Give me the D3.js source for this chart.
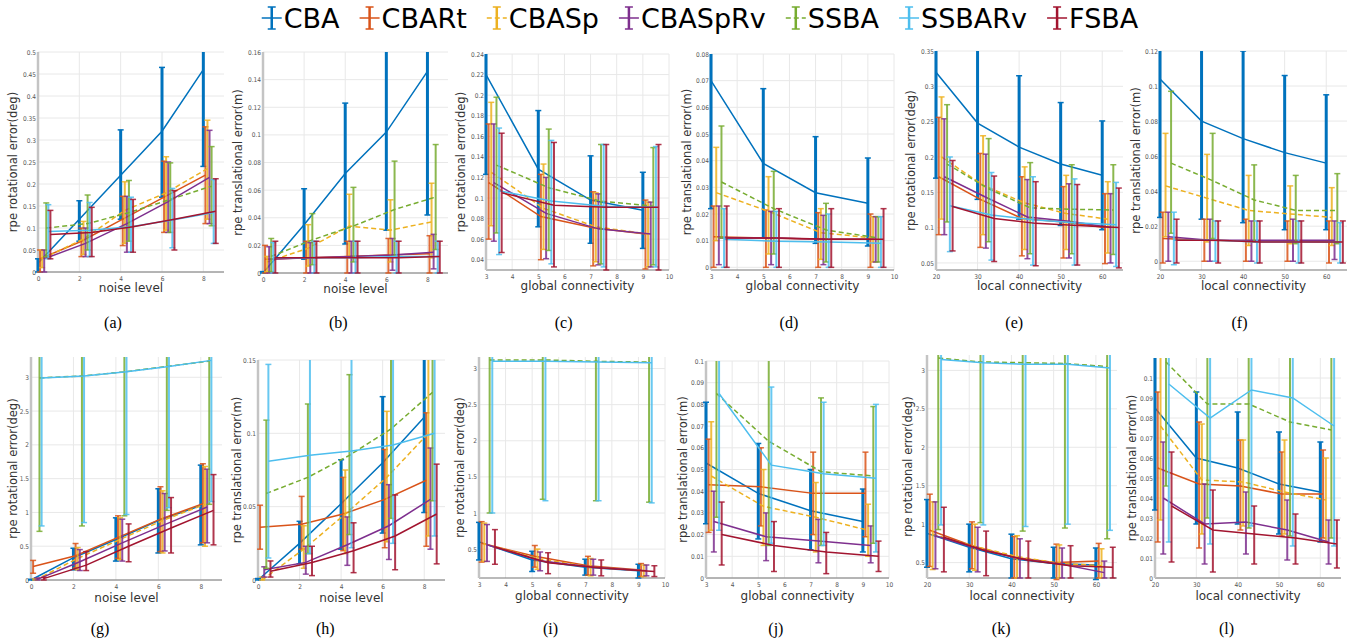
<!DOCTYPE html>
<html>
<head>
<meta charset="utf-8">
<script src="https://cdn.jsdelivr.net/npm/d3@7"></script>
<style>
  body { margin: 0; background: #fff; }
  text { font-family: "DejaVu Sans", sans-serif; }
</style>
</head>
<body>
<svg id="chart" width="1357" height="642"></svg>
<script>
var series = ['CBA', 'CBARt', 'CBASp', 'CBASpRv', 'SSBA', 'SSBARv', 'FSBA'];
var colors = ['#0072BD', '#D95319', '#EDB120', '#7E2F8E', '#77AC30', '#4DBEEE', '#A2142F'];
var dashes = [null, null, '5,3', null, '5,3', null, null];

var noiseLevels = [0, 2, 4, 6, 8];
var globalConn = [3, 5, 7, 9];
var localConn = [20, 30, 40, 50, 60];

// (a) rotational error vs noise
var aMean = [[0.02, 0.12, 0.22, 0.32, 0.46], [0.03, 0.07, 0.12, 0.17, 0.22], [0.03, 0.075, 0.14, 0.18, 0.235], [0.03, 0.065, 0.11, 0.16, 0.215], [0.10, 0.11, 0.135, 0.165, 0.195], [0.092, 0.095, 0.103, 0.118, 0.135], [0.085, 0.09, 0.103, 0.12, 0.138]];
var aLow = [[0, 0.07, 0.12, 0.17, 0.24], [0, 0.035, 0.06, 0.09, 0.11], [0.01, 0.04, 0.065, 0.095, 0.12], [0, 0.035, 0.045, 0.09, 0.11], [0.035, 0.05, 0.07, 0.09, 0.105], [0.03, 0.035, 0.045, 0.055, 0.065], [0.03, 0.035, 0.045, 0.05, 0.065]];
var aHigh = [[0.03, 0.162, 0.323, 0.465, 0.6], [0.05, 0.10, 0.172, 0.252, 0.33], [0.05, 0.115, 0.205, 0.262, 0.345], [0.05, 0.10, 0.172, 0.25, 0.322], [0.157, 0.175, 0.208, 0.248, 0.285], [0.153, 0.158, 0.17, 0.19, 0.21], [0.14, 0.147, 0.165, 0.185, 0.212]];

// (b) translational error vs noise
var bMean = [[0.0, 0.035, 0.072, 0.102, 0.146], [0.01, 0.011, 0.012, 0.013, 0.014], [0.008, 0.018, 0.034, 0.031, 0.037], [0.01, 0.011, 0.012, 0.013, 0.015], [0.012, 0.024, 0.034, 0.046, 0.055], [0.011, 0.011, 0.011, 0.012, 0.012], [0.011, 0.011, 0.011, 0.011, 0.012]];
var bLow = [[0, 0.01, 0.021, 0.031, 0.042], [0, 0, 0, 0, 0], [0.001, 0.005, 0.012, 0.008, 0.011], [0, 0, 0, 0.002, 0.003], [0.001, 0.006, 0.008, 0.012, 0.017], [0, 0, 0, 0, 0], [0, 0, 0, 0, 0]];
var bHigh = [[0.001, 0.061, 0.123, 0.2, 0.2], [0.02, 0.023, 0.023, 0.025, 0.027], [0.012, 0.035, 0.057, 0.053, 0.065], [0.019, 0.022, 0.023, 0.025, 0.028], [0.025, 0.043, 0.062, 0.081, 0.093], [0.022, 0.023, 0.023, 0.023, 0.023], [0.023, 0.023, 0.023, 0.023, 0.023]];

// (c) rotational error vs global connectivity
var cMean = [[0.22, 0.128, 0.098, 0.088], [0.115, 0.082, 0.071, 0.065], [0.125, 0.09, 0.072, 0.065], [0.115, 0.085, 0.07, 0.065], [0.132, 0.11, 0.097, 0.092], [0.107, 0.097, 0.092, 0.091], [0.105, 0.093, 0.091, 0.091]];
var cLow = [[0.123, 0.072, 0.056, 0.051], [0.06, 0.04, 0.034, 0.031], [0.073, 0.05, 0.038, 0.033], [0.058, 0.041, 0.035, 0.033], [0.066, 0.049, 0.036, 0.035], [0.045, 0.036, 0.033, 0.033], [0.047, 0.033, 0.03, 0.03]];
var cHigh = [[0.26, 0.185, 0.141, 0.125], [0.172, 0.123, 0.106, 0.098], [0.193, 0.133, 0.105, 0.096], [0.172, 0.12, 0.104, 0.096], [0.198, 0.167, 0.152, 0.149], [0.168, 0.156, 0.152, 0.15], [0.163, 0.154, 0.152, 0.152]];

// (d) translational error vs global connectivity
var dMean = [[0.07, 0.039, 0.028, 0.024], [0.0115, 0.011, 0.0105, 0.0105], [0.028, 0.021, 0.013, 0.011], [0.011, 0.011, 0.0105, 0.0105], [0.032, 0.022, 0.014, 0.011], [0.0105, 0.0098, 0.0095, 0.009], [0.011, 0.011, 0.0105, 0.0105]];
var dLow = [[0.022, 0.011, 0.009, 0.008], [0, 0, 0, 0], [0.01, 0.005, 0.003, 0.002], [0.001, 0.001, 0.001, 0.002], [0.011, 0.005, 0.002, 0.002], [0, 0, 0, 0], [0, 0, 0, 0]];
var dHigh = [[0.09, 0.067, 0.049, 0.041], [0.023, 0.0215, 0.0205, 0.02], [0.045, 0.034, 0.022, 0.019], [0.023, 0.021, 0.0195, 0.019], [0.053, 0.036, 0.024, 0.019], [0.022, 0.021, 0.02, 0.019], [0.023, 0.022, 0.022, 0.022]];

// (e) rotational error vs local connectivity
var eMean = [[0.32, 0.248, 0.214, 0.19, 0.174], [0.172, 0.14, 0.113, 0.108, 0.1], [0.2, 0.16, 0.135, 0.12, 0.112], [0.172, 0.143, 0.115, 0.109, 0.1], [0.19, 0.155, 0.128, 0.126, 0.125], [0.131, 0.118, 0.111, 0.107, 0.104], [0.13, 0.113, 0.106, 0.103, 0.1]];
var eLow = [[0.17, 0.14, 0.112, 0.103, 0.097], [0.09, 0.072, 0.06, 0.057, 0.049], [0.112, 0.09, 0.069, 0.069, 0.064], [0.09, 0.071, 0.056, 0.057, 0.05], [0.108, 0.08, 0.063, 0.063, 0.062], [0.066, 0.054, 0.047, 0.047, 0.045], [0.067, 0.052, 0.046, 0.047, 0.043]];
var eHigh = [[0.4, 0.4, 0.315, 0.277, 0.251], [0.256, 0.205, 0.172, 0.158, 0.148], [0.285, 0.23, 0.186, 0.174, 0.165], [0.254, 0.204, 0.168, 0.162, 0.148], [0.274, 0.226, 0.192, 0.189, 0.189], [0.2, 0.178, 0.172, 0.169, 0.164], [0.195, 0.173, 0.165, 0.161, 0.156]];

// (f) translational error vs local connectivity
var fMean = [[0.104, 0.08, 0.07, 0.062, 0.056], [0.013, 0.012, 0.0115, 0.0115, 0.011], [0.043, 0.036, 0.029, 0.027, 0.025], [0.014, 0.012, 0.012, 0.012, 0.012], [0.056, 0.046, 0.035, 0.029, 0.029], [0.012, 0.012, 0.011, 0.011, 0.011], [0.012, 0.012, 0.011, 0.011, 0.011]];
var fLow = [[0.025, 0.024, 0.022, 0.018, 0.018], [-0.001, 0, 0, 0, -0.001], [0.014, 0.011, 0.009, 0.01, 0.009], [0, 0, 0, 0, 0.001], [0.016, 0.013, 0.011, 0.01, 0.01], [-0.002, 0, -0.001, -0.001, -0.001], [-0.001, -0.001, -0.001, -0.001, -0.001]];
var fHigh = [[0.14, 0.14, 0.12, 0.106, 0.095], [0.028, 0.024, 0.024, 0.023, 0.023], [0.073, 0.061, 0.049, 0.043, 0.042], [0.028, 0.024, 0.023, 0.024, 0.023], [0.097, 0.073, 0.055, 0.049, 0.05], [0.028, 0.023, 0.023, 0.023, 0.022], [0.024, 0.023, 0.023, 0.023, 0.023]];

// (g) rotational error vs noise
var gMean = [[0.0, 0.33, 0.6, 0.88, 1.1], [0.2, 0.36, 0.63, 0.9, 1.13], [0.0, 0.32, 0.6, 0.88, 1.12], [0.01, 0.27, 0.55, 0.82, 1.08], [2.99, 3.02, 3.08, 3.16, 3.24], [2.99, 3.02, 3.08, 3.16, 3.25], [0.02, 0.22, 0.5, 0.77, 1.03]];
var gLow = [[0, 0.15, 0.28, 0.4, 0.52], [0.1, 0.18, 0.32, 0.42, 0.55], [0, 0.15, 0.3, 0.4, 0.5], [0, 0.14, 0.28, 0.43, 0.55], [0.72, 0.8, 0.95, 1.03, 1.12], [0.8, 0.85, 0.97, 1.07, 1.16], [0, 0.14, 0.27, 0.4, 0.52]];
var gHigh = [[0.01, 0.47, 0.92, 1.35, 1.7], [0.29, 0.54, 0.95, 1.38, 1.72], [0.02, 0.48, 0.92, 1.32, 1.68], [0.03, 0.45, 0.9, 1.28, 1.64], [4, 4, 4, 4, 4], [4, 4, 4, 4, 4], [0.04, 0.42, 0.83, 1.22, 1.56]];

// (h) translational error vs noise
var hMean = [[0.0, 0.025, 0.052, 0.08, 0.111], [0.036, 0.038, 0.045, 0.055, 0.068], [0.0, 0.021, 0.045, 0.07, 0.1], [0.007, 0.012, 0.024, 0.037, 0.055], [0.059, 0.07, 0.085, 0.103, 0.128], [0.081, 0.085, 0.088, 0.092, 0.1], [0.006, 0.012, 0.02, 0.03, 0.045]];
var hLow = [[0, 0.011, 0.021, 0.032, 0.046], [0.021, 0.021, 0.02, 0.022, 0.023], [0, 0.008, 0.018, 0.026, 0.03], [0.002, 0.004, 0.01, 0.014, 0.021], [0.008, 0.018, 0.031, 0.042, 0.054], [0.015, 0.018, 0.022, 0.025, 0.03], [0.002, 0.003, 0.005, 0.007, 0.011]];
var hHigh = [[0.001, 0.04, 0.082, 0.125, 0.2], [0.051, 0.057, 0.07, 0.089, 0.114], [0.002, 0.037, 0.075, 0.115, 0.2], [0.009, 0.023, 0.043, 0.065, 0.09], [0.109, 0.12, 0.14, 0.2, 0.2], [0.147, 0.2, 0.2, 0.2, 0.2], [0.013, 0.023, 0.039, 0.058, 0.079]];

// (i) rotational error vs global connectivity
var iMean = [[0.6, 0.35, 0.25, 0.2], [0.58, 0.4, 0.27, 0.21], [0.57, 0.37, 0.25, 0.2], [0.56, 0.34, 0.25, 0.2], [3.12, 3.12, 3.1, 3.09], [3.1, 3.1, 3.09, 3.08], [0.53, 0.31, 0.24, 0.19]];
var iLow = [[0.35, 0.19, 0.14, 0.1], [0.32, 0.25, 0.14, 0.12], [0.33, 0.22, 0.13, 0.12], [0.33, 0.2, 0.14, 0.13], [1.0, 1.19, 1.17, 1.15], [1.0, 1.17, 1.17, 1.14], [0.29, 0.16, 0.13, 0.12]];
var iHigh = [[0.87, 0.47, 0.36, 0.29], [0.88, 0.55, 0.4, 0.3], [0.86, 0.5, 0.37, 0.28], [0.84, 0.46, 0.36, 0.28], [4, 4, 4, 4], [4, 4, 4, 4], [0.77, 0.45, 0.35, 0.27]];

// (j) translational error vs global connectivity
var jMean = [[0.053, 0.039, 0.031, 0.026], [0.043, 0.042, 0.039, 0.039], [0.047, 0.033, 0.028, 0.022], [0.026, 0.019, 0.017, 0.015], [0.085, 0.063, 0.049, 0.047], [0.085, 0.052, 0.048, 0.046], [0.02, 0.015, 0.012, 0.01]];
var jLow = [[0.025, 0.018, 0.013, 0.012], [0.021, 0.024, 0.02, 0.019], [0.022, 0.015, 0.012, 0.01], [0.012, 0.008, 0.007, 0.007], [0.028, 0.015, 0.015, 0.016], [0.022, 0.016, 0.015, 0.012], [0.006, 0.003, 0.002, 0.003]];
var jHigh = [[0.081, 0.062, 0.05, 0.041], [0.064, 0.06, 0.058, 0.058], [0.072, 0.05, 0.044, 0.034], [0.04, 0.03, 0.027, 0.024], [0.13, 0.13, 0.083, 0.079], [0.13, 0.088, 0.081, 0.08], [0.035, 0.026, 0.021, 0.017]];

// (k) rotational error vs local connectivity
var kMean = [[0.88, 0.7, 0.55, 0.49, 0.47], [0.92, 0.72, 0.57, 0.5, 0.52], [0.87, 0.71, 0.58, 0.49, 0.46], [0.85, 0.68, 0.55, 0.48, 0.37], [3.16, 3.11, 3.1, 3.09, 3.05], [3.14, 3.1, 3.08, 3.08, 3.03], [0.83, 0.65, 0.53, 0.46, 0.44]];
var kLow = [[0.44, 0.38, 0.3, 0.3, 0.28], [0.45, 0.42, 0.3, 0.28, 0.3], [0.41, 0.4, 0.3, 0.3, 0.3], [0.42, 0.38, 0.3, 0.3, 0.3], [0.93, 1.02, 0.91, 0.95, 0.81], [0.99, 0.99, 0.97, 1.0, 0.92], [0.38, 0.33, 0.3, 0.3, 0.3]];
var kHigh = [[1.32, 1.0, 0.87, 0.7, 0.69], [1.39, 1.03, 0.84, 0.74, 0.75], [1.29, 1.0, 0.85, 0.73, 0.68], [1.29, 0.96, 0.81, 0.69, 0.52], [4, 4, 4, 4, 4], [4, 4, 4, 4, 4], [1.22, 0.91, 0.78, 0.72, 0.7]];

// (l) translational error vs local connectivity
var lMean = [[0.085, 0.06, 0.055, 0.047, 0.043], [0.055, 0.047, 0.046, 0.042, 0.042], [0.076, 0.049, 0.048, 0.043, 0.039], [0.04, 0.027, 0.028, 0.024, 0.018], [0.108, 0.087, 0.087, 0.078, 0.074], [0.097, 0.08, 0.094, 0.09, 0.076], [0.036, 0.024, 0.022, 0.02, 0.017]];
var lLow = [[0.034, 0.027, 0.027, 0.022, 0.018], [0.018, 0.015, 0.024, 0.021, 0.02], [0.029, 0.022, 0.026, 0.022, 0.018], [0.012, 0.007, 0.012, 0.009, 0.007], [0.046, 0.03, 0.025, 0.021, 0.02], [0.018, 0.017, 0.026, 0.016, 0.016], [0.008, 0.003, 0.007, 0.007, 0.005]];
var lHigh = [[0.14, 0.093, 0.083, 0.073, 0.068], [0.093, 0.078, 0.069, 0.063, 0.064], [0.14, 0.077, 0.069, 0.069, 0.06], [0.068, 0.047, 0.043, 0.039, 0.029], [0.14, 0.14, 0.14, 0.14, 0.14], [0.14, 0.14, 0.14, 0.14, 0.14], [0.063, 0.044, 0.036, 0.032, 0.029]];

var rotLabel = 'rpe rotational error(deg)';
var transLabel = 'rpe translational error(m)';

var svg = d3.select('#chart');

function ticks(a, b, step) {
  var out = [];
  for (var v = a; v <= b + step / 1000; v += step) out.push(+v.toFixed(4));
  return out;
}

// box = [left, right, top, bottom]; gap = distance of the y label from the axis
var panels = [
  { id: 'a', xs: noiseLevels, off: 0.1, mean: aMean, low: aLow, high: aHigh, xDomain: [0, 9], yDomain: [0, 0.5], xTicks: noiseLevels, yTicks: ticks(0, 0.5, 0.05), yLabel: rotLabel, xLabel: 'noise level', box: [38, 224, 52, 272], gap: 25 },
  { id: 'b', xs: noiseLevels, off: 0.1, mean: bMean, low: bLow, high: bHigh, xDomain: [0, 9], yDomain: [0, 0.16], xTicks: noiseLevels, yTicks: ticks(0, 0.16, 0.02), yLabel: transLabel, xLabel: 'noise level', box: [263, 448, 52, 273], gap: 25 },
  { id: 'c', xs: globalConn, off: 0.1, mean: cMean, low: cLow, high: cHigh, xDomain: [3, 10], yDomain: [0.03, 0.24], xTicks: ticks(3, 10, 1), yTicks: ticks(0.04, 0.24, 0.02), yLabel: rotLabel, xLabel: 'global connectivity', box: [486, 669, 54, 270], gap: 25 },
  { id: 'd', xs: globalConn, off: 0.1, mean: dMean, low: dLow, high: dHigh, xDomain: [3, 10], yDomain: [-0.001, 0.08], xTicks: ticks(3, 10, 1), yTicks: ticks(0, 0.08, 0.01), yLabel: transLabel, xLabel: 'global connectivity', box: [711, 894, 54, 270], gap: 24 },
  { id: 'e', xs: localConn, off: 2 / 3, mean: eMean, low: eLow, high: eHigh, xDomain: [20, 65], yDomain: [0.04, 0.35], xTicks: localConn, yTicks: ticks(0.05, 0.35, 0.05), yLabel: rotLabel, xLabel: 'local connectivity', box: [936, 1123, 51, 270], gap: 25 },
  { id: 'f', xs: localConn, off: 2 / 3, mean: fMean, low: fLow, high: fHigh, xDomain: [20, 65], yDomain: [-0.005, 0.12], xTicks: localConn, yTicks: ticks(0, 0.12, 0.02), yLabel: transLabel, xLabel: 'local connectivity', box: [1160, 1347, 51, 270], gap: 24 },
  { id: 'g', xs: noiseLevels, off: 0.1, mean: gMean, low: gLow, high: gHigh, xDomain: [0, 9], yDomain: [0, 3.3], xTicks: noiseLevels, yTicks: ticks(0, 3, 0.5), yLabel: rotLabel, xLabel: 'noise level', box: [31, 222, 357, 580], gap: 18 },
  { id: 'h', xs: noiseLevels, off: 0.1, mean: hMean, low: hLow, high: hHigh, xDomain: [0, 9], yDomain: [0, 0.15], xTicks: noiseLevels, yTicks: ticks(0, 0.15, 0.05), yLabel: transLabel, xLabel: 'noise level', box: [258, 445, 360, 580], gap: 21 },
  { id: 'i', xs: globalConn, off: 0.1, mean: iMean, low: iLow, high: iHigh, xDomain: [3, 10], yDomain: [0.1, 3.16], xTicks: ticks(3, 10, 1), yTicks: ticks(0.5, 3, 0.5), yLabel: rotLabel, xLabel: 'global connectivity', box: [479, 665, 357, 578], gap: 19 },
  { id: 'j', xs: globalConn, off: 0.1, mean: jMean, low: jLow, high: jHigh, xDomain: [3, 10], yDomain: [0, 0.1], xTicks: ticks(3, 10, 1), yTicks: ticks(0, 0.1, 0.01), yLabel: transLabel, xLabel: 'global connectivity', box: [706, 889, 361, 578], gap: 23 },
  { id: 'k', xs: localConn, off: 2 / 3, mean: kMean, low: kLow, high: kHigh, xDomain: [20, 65], yDomain: [0.3, 3.2], xTicks: localConn, yTicks: ticks(0.5, 3, 0.5), yLabel: rotLabel, xLabel: 'local connectivity', box: [927, 1117, 355, 578], gap: 19 },
  { id: 'l', xs: localConn, off: 2 / 3, mean: lMean, low: lLow, high: lHigh, xDomain: [20, 65], yDomain: [0, 0.11], xTicks: localConn, yTicks: ticks(0, 0.1, 0.01), yLabel: transLabel, xLabel: 'local connectivity', box: [1155, 1341, 358, 578], gap: 23 }
];

function fmt(d) { return String(+d.toFixed(4)); }

panels.forEach(function(p, pi) {
  var left = p.box[0], right = p.box[1], top = p.box[2], bottom = p.box[3];
  var topRow = pi < 6;
  var x = d3.scaleLinear().domain(p.xDomain).range([left, right]);
  var y = d3.scaleLinear().domain(p.yDomain).range([bottom, top]);
  var g = svg.append('g').attr('class', 'panel-' + p.id);

  g.append('clipPath').attr('id', 'clip-' + p.id)
    .append('rect')
    .attr('x', left - 4).attr('y', top)
    .attr('width', right - left + 8).attr('height', bottom - top + 4);

  // grid
  g.append('g').selectAll('line.vg').data(p.xTicks).enter().append('line')
    .attr('x1', function(d) { return x(d); }).attr('x2', function(d) { return x(d); })
    .attr('y1', top).attr('y2', bottom)
    .attr('stroke', '#e8e8e8').attr('stroke-width', 1);
  g.append('g').selectAll('line.hg').data(p.yTicks).enter().append('line')
    .attr('x1', left).attr('x2', right)
    .attr('y1', function(d) { return y(d); }).attr('y2', function(d) { return y(d); })
    .attr('stroke', '#e8e8e8').attr('stroke-width', 1);

  // axes
  var xAxis = g.append('g').attr('transform', 'translate(0,' + bottom + ')')
    .call(d3.axisBottom(x).tickValues(p.xTicks).tickSize(0).tickPadding(4).tickFormat(fmt));
  var yAxis = g.append('g').attr('transform', 'translate(' + left + ',0)')
    .call(d3.axisLeft(y).tickValues(p.yTicks).tickSize(0).tickPadding(2).tickFormat(fmt));
  [xAxis, yAxis].forEach(function(ax) {
    ax.select('.domain').remove();
    ax.selectAll('text').attr('fill', '#555').style('font-size', '6.5px')
      .style('font-family', '"DejaVu Sans Condensed", "DejaVu Sans", sans-serif');
  });
  g.append('line').attr('x1', left).attr('x2', right).attr('y1', bottom).attr('y2', bottom)
    .attr('stroke', '#777').attr('stroke-width', 1.2);
  g.append('line').attr('x1', left).attr('x2', left).attr('y1', top).attr('y2', bottom)
    .attr('stroke', '#c4c4c4').attr('stroke-width', 2.5);

  // series: error bars then the mean line, each series shifted a little in x
  var plot = g.append('g').attr('clip-path', 'url(#clip-' + p.id + ')');
  var line = d3.line().x(function(d) { return x(d.x); }).y(function(d) { return y(d.m); });
  series.forEach(function(name, k) {
    var pts = p.xs.map(function(xv, j) {
      return { x: xv + k * p.off, m: p.mean[k][j], lo: p.low[k][j], hi: p.high[k][j] };
    });
    var sg = plot.append('g').attr('class', 'series-' + name);
    var bw = k === 0 ? 3 : 2;
    var bars = sg.selectAll('g.bar').data(pts).enter().append('g')
      .attr('stroke', colors[k]).attr('stroke-opacity', k === 0 ? 1 : 0.85).attr('stroke-width', bw);
    bars.append('line')
      .attr('x1', function(d) { return x(d.x); }).attr('x2', function(d) { return x(d.x); })
      .attr('y1', function(d) { return y(d.lo); }).attr('y2', function(d) { return y(d.hi); });
    bars.append('line')
      .attr('x1', function(d) { return x(d.x) - 3; }).attr('x2', function(d) { return x(d.x) + 3; })
      .attr('y1', function(d) { return y(d.lo); }).attr('y2', function(d) { return y(d.lo); })
      .attr('stroke-width', 1.5);
    bars.append('line')
      .attr('x1', function(d) { return x(d.x) - 3; }).attr('x2', function(d) { return x(d.x) + 3; })
      .attr('y1', function(d) { return y(d.hi); }).attr('y2', function(d) { return y(d.hi); })
      .attr('stroke-width', 1.5);
    sg.append('path').datum(pts)
      .attr('d', line)
      .attr('fill', 'none')
      .attr('stroke', colors[k])
      .attr('stroke-width', 1.5)
      .attr('stroke-dasharray', dashes[k]);
  });

  // labels
  g.append('text')
    .attr('transform', 'translate(' + (left - p.gap) + ',' + ((top + bottom) / 2) + ') rotate(-90)')
    .attr('text-anchor', 'middle')
    .attr('dominant-baseline', 'central')
    .attr('fill', '#333')
    .style('font-size', '11.5px')
    .text(p.yLabel);
  g.append('text')
    .attr('x', (left + right) / 2).attr('y', bottom + (topRow ? 20 : 22))
    .attr('text-anchor', 'middle')
    .attr('fill', '#333')
    .style('font-size', '12px')
    .text(p.xLabel);
  g.append('text')
    .attr('x', (topRow ? 113 : 100) + (pi % 6) * 225.3)
    .attr('y', topRow ? 328 : 634)
    .attr('text-anchor', 'middle')
    .attr('fill', '#000')
    .style('font-family', '"Liberation Serif", serif')
    .style('font-size', '16px')
    .text('(' + p.id + ')');
});

// legend
var legend = svg.append('g').attr('class', 'legend');
var cursor = 0;
series.forEach(function(name, k) {
  var it = legend.append('g');
  var icon = it.append('g').attr('stroke', colors[k]).attr('stroke-width', 2.5);
  icon.append('line').attr('x1', 10).attr('x2', 10).attr('y1', -11).attr('y2', 11);
  icon.append('line').attr('x1', 6).attr('x2', 14).attr('y1', -11).attr('y2', -11).attr('stroke-width', 1.5);
  icon.append('line').attr('x1', 6).attr('x2', 14).attr('y1', 11).attr('y2', 11).attr('stroke-width', 1.5);
  icon.append('line').attr('x1', 0).attr('x2', 20).attr('y1', 0).attr('y2', 0)
    .attr('stroke-width', 1.5).attr('stroke-dasharray', dashes[k]);
  var t = it.append('text').attr('x', 22).attr('y', 0)
    .attr('dominant-baseline', 'central')
    .style('font-size', '27px')
    .attr('fill', '#000')
    .text(name);
  var w = 22 + t.node().getComputedTextLength();
  it.attr('transform', 'translate(' + cursor + ',18)');
  cursor += w + 20;
});
var total = cursor - 20;
legend.attr('transform', 'translate(' + (700 - total / 2) + ',0)');
</script>
</body>
</html>
